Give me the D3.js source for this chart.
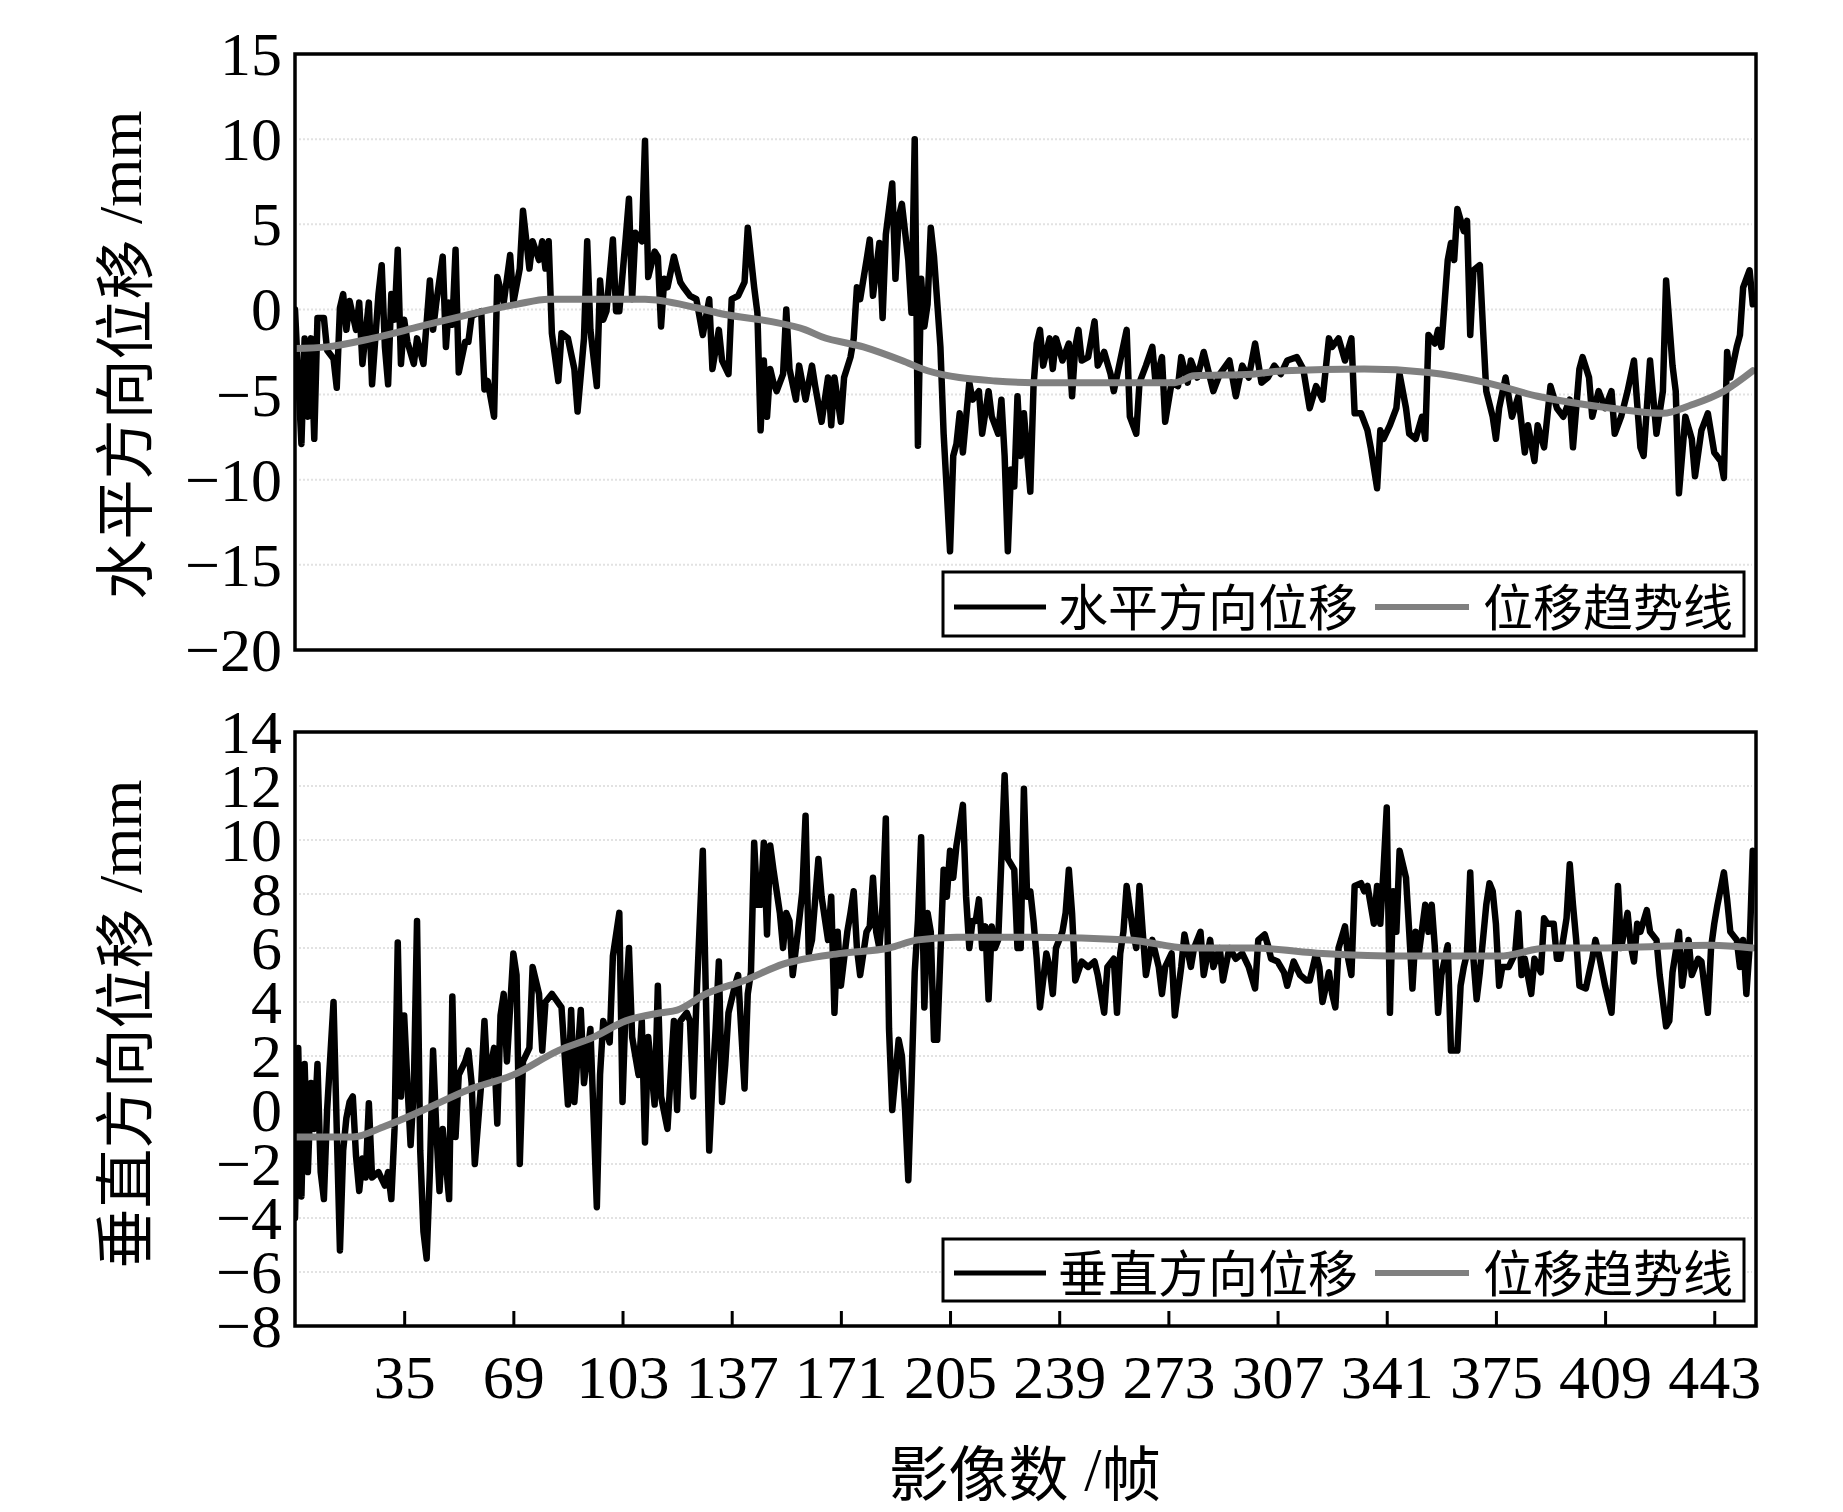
<!DOCTYPE html>
<html>
<head>
<meta charset="utf-8">
<script src="https://cdn.jsdelivr.net/npm/d3@7"></script>
<style>
  html, body { margin: 0; padding: 0; background: #fff; }
  svg { display: block; }
</style>
</head>
<body>
<svg id="chart" width="1843" height="1512"></svg>
<script>
// ---------------- DATA ----------------
const xTicks = [35, 69, 103, 137, 171, 205, 239, 273, 307, 341, 375, 409, 443];
const yTicksTop = [15, 10, 5, 0, -5, -10, -15, -20];
const yTicksBottom = [14, 12, 10, 8, 6, 4, 2, 0, -2, -4, -6, -8];

const topLegend = ["水平方向位移", "位移趋势线"];
const bottomLegend = ["垂直方向位移", "位移趋势线"];
const topYTitle = ["水平方向位移", " /mm"];
const bottomYTitle = ["垂直方向位移", " /mm"];
const xTitle = ["影像数", " /", "帧"];

// horizontal displacement [frame, mm]
const horizontal = [
[1,0],[3,-7.9],[4,-1.7],[5,-6.3],[6,-1.7],[7,-7.6],[8,-0.5],[10,-0.5],[11,-2.4],[13,-2.9],[14,-4.6],[15,0.1],[16,0.9],[17,-1.2],[18,0.5],[20,-1.2],[21,0.4],[22,-3.2],[24,0.4],[25,-4.4],[27,0.9],[28,2.6],[29,-2.2],[30,-4.4],[31,0.9],[32,-0.6],[33,3.5],[34,-3.2],[35,-0.6],[36,-1.9],[38,-3.2],[39,-1.7],[41,-3.2],[43,1.7],[44,-1.2],[45,0.4],[47,3.1],[48,-2.2],[49,0.4],[50,-0.9],[51,3.5],[52,-3.7],[54,-1.9],[55,-1.9],[56,-0.4],[59,-0.1],[60,-4.7],[61,-4.2],[63,-6.3],[64,1.9],[66,0.4],[68,3.2],[69,0.4],[71,2.4],[72,5.8],[74,2.4],[75,4.0],[77,2.9],[78,4.0],[79,2.4],[80,4.0],[81,-1.4],[83,-4.2],[84,-1.4],[86,-1.7],[88,-3.5],[89,-6.0],[91,-1.7],[92,4.0],[93,-1.2],[95,-4.5],[96,1.7],[97,-0.6],[98,-0.1],[100,4.1],[101,-0.1],[102,-0.1],[104,4.2],[105,6.5],[106,0.6],[107,4.5],[109,4.0],[110,9.9],[111,1.9],
[113,3.4],[114,3.1],[115,-1.0],[116,1.8],[117,1.3],[119,3.1],[121,1.6],[122,1.3],[124,0.8],[126,0.6],[128,-1.5],[130,0.6],[131,-3.5],[133,-1.2],[134,-3.0],[136,-3.8],[137,0.6],[139,0.8],[141,1.6],[142,4.8],[144,1.3],[145,-0.2],[146,-7.1],[147,-3.0],[148,-6.3],[149,-3.5],[150,-4.3],[151,-4.8],[153,-3.8],[154,0.0],[155,-3.5],[157,-5.3],[158,-3.3],[160,-5.3],[162,-3.3],[163,-4.5],[165,-6.6],[167,-4.0],[168,-6.8],[169,-4.0],[171,-6.6],[172,-4.0],[174,-2.8],[175,-1.7],[176,1.3],[177,0.6],[179,2.9],[180,4.1],[181,0.8],[183,3.9],[184,-0.5],[185,4.4],[187,7.4],[188,1.8],[189,5.4],[190,6.2],[192,2.9],[193,-0.2],[194,10.0],[195,-8.0],[196,1.8],[197,-1.0],[198,0.3],[199,4.8],[200,3.1],[202,-2.2],[203,-7.3],[204,-10.7],[205,-14.2],[206,-8.6],[207,-7.9],[208,-6.1],[209,-8.4],[211,-4.3],[212,-5.3],[214,-4.8],[215,-7.3],[217,-4.8],[218,-6.3],[220,-7.3],[221,-5.3],[222,-8.6],[223,-14.2],[224,-9.4],[225,-10.4],[226,-5.1],[227,-8.6],[228,-6.1],[230,-10.7],[231,-4.5],[232,-2.0],[233,-1.2],[234,-3.3],[236,-1.7],[237,-3.5],[238,-1.7],[240,-3.0],[242,-2.0],[243,-5.1],[244,-2.2],[245,-1.2],[246,-3.0],[248,-2.8],[250,-0.7],[251,-3.3],[253,-2.5],[255,-3.8],[256,-4.8],[258,-3.0],[260,-1.2],[261,-6.3],[263,-7.3],[264,-4.3],[266,-3.3],[268,-2.2],[269,-4.3],[271,-2.8],[272,-6.6],[274,-4.3],[276,-4.5],[277,-2.8],[279,-4.3],[280,-3.0],[282,-4.0],
[284,-2.5],[287,-4.8],[289,-3.8],[292,-3.0],[294,-5.1],[296,-3.3],[298,-4.0],[300,-2.0],[302,-4.3],[304,-4.0],[306,-3.3],[308,-3.8],[310,-3.0],[313,-2.8],[315,-3.5],[317,-5.8],[319,-4.5],[321,-5.3],[323,-1.7],[324,-2.2],[326,-1.7],[328,-3.0],[330,-1.7],[331,-6.1],[333,-6.1],[335,-7.1],[336,-8.1],[338,-10.5],[339,-7.1],[340,-7.6],[342,-6.8],[344,-5.8],[345,-3.8],[347,-5.8],[348,-7.3],[350,-7.6],[352,-6.3],[353,-7.6],[354,-1.5],[356,-2.0],[357,-1.2],[358,-2.2],[360,2.9],[361,3.9],[362,2.9],[363,5.9],[365,4.6],[366,5.2],[367,-1.5],[368,2.3],[370,2.6],[371,-1.2],[372,-4.8],[374,-6.3],[375,-7.6],[376,-5.8],[378,-4.0],[380,-6.3],[382,-5.1],[384,-8.4],[385,-6.8],[387,-8.9],[388,-6.8],[390,-8.1],[392,-4.5],[394,-5.8],[396,-6.3],[398,-5.3],[399,-8.1],[401,-3.5],[402,-2.8],[404,-4.0],[405,-6.3],[407,-4.8],[409,-5.8],[411,-4.8],[412,-7.3],[414,-6.3],[416,-4.8],[418,-3.0],[420,-8.1],[421,-8.6],[423,-3.0],[425,-7.3],[427,-4.8],[428,1.7],[430,-3.3],[431,-4.8],[432,-10.8],[434,-6.3],[436,-7.6],[437,-9.8],[439,-7.1],[441,-6.1],[443,-8.4],[445,-8.9],[446,-9.9],[447,-2.5],[448,-4.0],[450,-2.2],[451,-1.5],[452,1.3],[454,2.3],[455,0.3]
];

const horizontalTrend = [
[1,-2.3],[11,-2.2],[25,-1.7],[40,-1.0],[55,-0.3],[70,0.3],[80,0.6],[110,0.6],[126,0.1],[135,-0.3],[149,-0.7],[160,-1.2],[165,-1.6],[178,-2.2],[190,-3.0],[198,-3.6],[219,-4.2],[231,-4.3],[255,-4.3],[275,-4.3],[281,-3.9],[299,-3.8],[309,-3.6],[334,-3.5],[354,-3.7],[372,-4.3],[388,-5.1],[411,-5.8],[427,-6.1],[436,-5.6],[446,-4.8],[455,-3.6]
];

// vertical displacement [frame, mm]
const vertical = [
[1,-4.0],[2,2.3],[3,-3.2],[4,1.7],[5,-2.3],[6,1.0],[7,-0.7],[8,1.7],[9,-2.3],[10,-3.3],[11,0],[13,4.0],[14,-0.7],[15,-5.2],[16,-1.5],[17,-0.3],[18,0.3],[19,0.5],[20,-1.7],[21,-3.0],[22,-1.8],[23,-2.5],[24,0.25],[25,-2.5],[27,-2.3],[29,-2.8],[30,-2.3],[31,-3.3],[32,-0.7],[33,6.2],[34,0.5],[35,3.5],[36,1.0],[37,-1.3],[38,0.8],[39,7.0],[40,-1.5],[41,-4.5],[42,-5.5],[43,-2.3],[44,2.2],[45,-0.7],[46,-3.0],[47,-0.7],[49,-3.3],[50,4.2],[51,-1.0],[52,1.3],[54,1.8],[55,2.2],[56,1.0],[57,-2.0],[59,1.0],[60,3.3],[61,1.0],[63,2.3],[64,-0.5],[65,3.5],[66,4.3],[67,1.8],[69,5.8],[70,5.0],[71,-2.0],[72,1.8],[74,2.3],[75,5.3],[77,4.3],[78,2.2],[79,4.0],[81,4.3],[84,3.8],[86,0.2],[87,3.7],[88,0.3],[90,3.7],[91,1.0],[93,3.0],[95,-3.6],[96,1.3],[97,3.3],[99,2.5],[100,5.7],[102,7.3],[103,0.3],[104,4.0],[105,6.0],[106,2.7],[108,1.3],[109,3.3],[110,-1.2],[111,2.7],
[113,0.2],[114,4.6],[115,0.5],[117,-0.7],[119,3.3],[120,0],[121,3.3],[123,3.6],[124,3.3],[125,0.5],[126,4.0],[128,9.6],[129,4.0],[130,-1.5],[131,1.0],[132,3.0],[133,5.5],[134,0.3],[135,1.7],[136,3.6],[138,4.6],[139,5.0],[141,0.8],[142,4.3],[143,5.1],[144,9.9],[145,7.6],[146,7.6],[147,9.9],[148,6.5],[149,9.8],[150,8.9],[152,7.3],[153,6.0],[154,7.3],[155,7.0],[156,5.0],[158,7.0],[159,8.1],[160,10.9],[161,5.8],[162,6.3],[164,9.3],[165,7.9],[167,6.3],[168,7.9],[169,3.6],[170,6.6],[171,4.6],[173,6.6],[174,7.3],[175,8.1],[176,6.0],[177,5.0],[179,6.6],[180,6.8],[181,8.6],[182,6.6],[183,6.0],[184,7.6],[185,10.8],[186,3.0],[187,0],[189,2.6],[190,2.0],[191,0],[192,-2.6],[193,1.0],[194,5.1],[195,7.0],[196,10.1],[197,3.8],[198,7.3],[199,6.6],[200,2.6],[201,2.6],[203,8.9],[204,7.9],[205,9.6],[206,8.6],[207,9.8],[209,11.3],[210,7.9],[211,6.0],[212,7.0],[213,7.0],[214,7.8],[215,6.0],[216,6.8],[217,4.1],[218,6.8],[219,6.0],[220,6.3],[221,9.3],[222,12.4],[223,9.3],[225,8.9],[226,6.0],[227,6.0],[228,11.9],[229,7.9],[230,8.1],[231,7.0],[232,5.6],[233,3.8],[235,5.8],[236,5.3],[237,4.3],[238,6.0],[240,6.6],[241,7.3],[242,8.9],[243,7.3],[244,4.8],[246,5.5],[248,5.3],[250,5.5],[251,5.0],[253,3.6],[254,5.3],[256,5.6],[257,3.6],[258,5.8],[259,6.6],[260,8.3],[262,6.6],[263,6.0],[264,8.3],[265,6.6],[266,5.0],[268,6.3],[269,5.8],[270,5.3],[271,4.3],[272,5.3],[274,5.8],[275,3.5],[277,5.3],[278,6.5],[280,5.3],[281,6.0],
[283,6.6],[284,5.0],[286,6.3],[287,5.3],[289,6.0],[290,4.8],[292,6.0],[294,5.6],[296,5.8],[298,5.3],[300,4.5],[301,6.3],[303,6.5],[304,6.1],[305,5.6],[307,5.5],[309,5.1],[310,4.6],[312,5.5],[314,5.0],[316,4.8],[317,4.8],[319,5.8],[320,5.3],[321,4.0],[323,5.1],[324,4.3],[325,3.8],[326,6.0],[328,6.8],[329,5.6],[330,5.0],[331,8.3],[333,8.4],[334,8.1],[335,8.3],[337,6.9],[338,8.3],[339,6.9],[340,8.9],[341,11.2],[342,3.6],[343,8.1],[344,6.6],[345,9.6],[347,8.6],[348,6.6],[349,4.5],[350,6.6],[351,5.8],[353,7.6],[354,6.6],[355,7.6],[356,6.0],[357,3.6],[358,5.0],[360,6.1],[361,2.2],[363,2.2],[364,4.6],[365,5.3],[366,5.8],[367,8.8],[368,5.6],[369,4.1],[370,5.1],[372,7.6],[373,8.4],[374,8.1],[375,6.9],[376,4.6],[377,5.3],[379,5.3],[381,5.8],[382,7.3],[383,5.0],[384,5.6],[386,4.3],[387,5.6],[389,5.1],[390,7.1],[391,6.9],[393,6.9],[394,5.6],[395,5.6],[397,7.1],[398,9.1],[399,7.6],[400,6.3],[401,4.6],[403,4.5],[405,5.6],[406,6.3],[407,5.8],[409,4.6],[411,3.6],[412,5.8],[413,8.3],[414,6.0],[416,7.3],[417,6.1],[418,5.5],[419,6.9],[420,6.6],[422,7.4],[423,6.6],[425,6.3],[426,5.0],[428,3.1],[429,3.3],[430,5.1],[432,6.6],[433,4.6],[435,6.3],[436,5.0],[438,5.6],[439,5.5],[441,3.6],[442,6.0],[443,6.9],[444,7.6],[446,8.8],[447,7.8],[448,6.6],[450,6.3],[451,5.3],[452,6.3],[453,4.3],[454,6.0],[455,9.6]
];

const verticalTrend = [
[1,-1.0],[19,-1.0],[29,-0.6],[41,0.0],[55,0.75],[69,1.3],[83,2.2],[94,2.7],[104,3.3],[115,3.6],[120,3.7],[129,4.3],[141,4.8],[153,5.4],[171,5.8],[186,6.0],[195,6.3],[207,6.4],[231,6.4],[261,6.3],[279,6.0],[299,6.0],[321,5.8],[347,5.7],[376,5.7],[391,6.0],[404,6.0],[442,6.1],[455,6.0]
];

// ---------------- DRAWING ----------------
const svg = d3.select("#chart");
svg.append("rect").attr("width", 1843).attr("height", 1512).attr("fill", "#fff");

const LEFT = 295, RIGHT = 1756;
const x = d3.scaleLinear().domain([1, 456]).range([LEFT, RIGHT]);

const numFont = "'Liberation Serif', 'Times New Roman', serif";
const cjkFont = "'Noto Sans CJK SC', 'Noto Sans CJK JP', sans-serif";

function panel(cfg) {
  const y = d3.scaleLinear().domain(cfg.domain).range([cfg.bottom, cfg.top]);
  const g = svg.append("g");

  // faint grid lines
  g.append("g").selectAll("line").data(cfg.yTicks).join("line")
    .attr("x1", LEFT + 4).attr("x2", RIGHT - 4)
    .attr("y1", d => y(d)).attr("y2", d => y(d))
    .attr("stroke", "#e2e2e2").attr("stroke-width", 2)
    .attr("stroke-dasharray", "2,2");

  const clipId = "clip" + cfg.id;
  svg.append("clipPath").attr("id", clipId).append("rect")
    .attr("x", LEFT).attr("y", cfg.top).attr("width", RIGHT - LEFT).attr("height", cfg.bottom - cfg.top);

  const plot = g.append("g").attr("clip-path", `url(#${clipId})`);
  const line = d3.line().x(d => x(d[0])).y(d => y(d[1]));
  const trendLine = d3.line().x(d => x(d[0])).y(d => y(d[1])).curve(d3.curveMonotoneX);

  plot.append("path").datum(cfg.series).attr("d", line)
    .attr("fill", "none").attr("stroke", "#000").attr("stroke-width", 6.5)
    .attr("stroke-linejoin", "round").attr("stroke-linecap", "round");
  plot.append("path").datum(cfg.trend).attr("d", trendLine)
    .attr("fill", "none").attr("stroke", "#808080").attr("stroke-width", 7)
    .attr("stroke-linecap", "round");

  // y axis labels
  const yAxis = d3.axisLeft(y).tickValues(cfg.yTicks).tickSize(0).tickPadding(13).tickFormat(d3.format("d"));
  const ya = g.append("g").attr("transform", `translate(${LEFT},0)`).call(yAxis);
  ya.select(".domain").remove();
  ya.selectAll("text").attr("font-family", numFont).attr("font-size", 62).attr("fill", "#000")
    .attr("dy", "0.33em");

  // x axis ticks (inward)
  if (cfg.xAxis) {
    const xAxis = d3.axisBottom(x).tickValues(xTicks).tickSize(-15).tickPadding(28).tickFormat(d3.format("d"));
    const xa = g.append("g").attr("transform", `translate(0,${cfg.bottom})`).call(xAxis);
    xa.select(".domain").remove();
    xa.selectAll("line").attr("stroke", "#000").attr("stroke-width", 3);
    xa.selectAll("text").attr("font-family", numFont).attr("font-size", 62).attr("fill", "#000");
  }

  // frame
  g.append("rect").attr("x", LEFT).attr("y", cfg.top).attr("width", RIGHT - LEFT).attr("height", cfg.bottom - cfg.top)
    .attr("fill", "none").attr("stroke", "#000").attr("stroke-width", 3.5);

  // legend
  const lg = g.append("g");
  lg.append("rect").attr("x", 943).attr("y", cfg.legendTop).attr("width", 801).attr("height", cfg.legendH)
    .attr("fill", "#fff").attr("stroke", "#000").attr("stroke-width", 3);
  const cy = cfg.legendTop + cfg.legendH / 2;
  lg.append("line").attr("x1", 954).attr("x2", 1046).attr("y1", cy + 3).attr("y2", cy + 3)
    .attr("stroke", "#000").attr("stroke-width", 5);
  lg.append("text").attr("x", 1058).attr("y", cy).attr("dominant-baseline", "central")
    .attr("font-family", cjkFont).attr("font-size", 50).attr("fill", "#000").text(cfg.legend[0]);
  lg.append("line").attr("x1", 1375).attr("x2", 1469).attr("y1", cy + 3).attr("y2", cy + 3)
    .attr("stroke", "#808080").attr("stroke-width", 6);
  lg.append("text").attr("x", 1483).attr("y", cy).attr("dominant-baseline", "central")
    .attr("font-family", cjkFont).attr("font-size", 50).attr("fill", "#000").text(cfg.legend[1]);

  // y title
  const t = g.append("text")
    .attr("transform", `translate(120,${cfg.titleY}) rotate(-90)`)
    .attr("text-anchor", "middle").attr("dominant-baseline", "central").attr("fill", "#000");
  t.append("tspan").attr("font-family", cjkFont).attr("font-size", 60).text(cfg.yTitle[0]);
  t.append("tspan").attr("font-family", numFont).attr("font-size", 62).text(cfg.yTitle[1]);
}

panel({ id: "top", domain: [-20, 15], top: 54, bottom: 650, yTicks: yTicksTop,
  series: horizontal, trend: horizontalTrend, legend: topLegend, legendTop: 572, legendH: 64,
  yTitle: topYTitle, titleY: 355, xAxis: false });

panel({ id: "bot", domain: [-8, 14], top: 732, bottom: 1326, yTicks: yTicksBottom,
  series: vertical, trend: verticalTrend, legend: bottomLegend, legendTop: 1239, legendH: 62,
  yTitle: bottomYTitle, titleY: 1024, xAxis: true });

// x title
const xt = svg.append("text").attr("x", 1025).attr("y", 1469)
  .attr("text-anchor", "middle").attr("dominant-baseline", "central").attr("fill", "#000");
xt.append("tspan").attr("font-family", cjkFont).attr("font-size", 60).text(xTitle[0]);
xt.append("tspan").attr("font-family", numFont).attr("font-size", 62).text(xTitle[1]);
xt.append("tspan").attr("font-family", cjkFont).attr("font-size", 60).text(xTitle[2]);
</script>
</body>
</html>
